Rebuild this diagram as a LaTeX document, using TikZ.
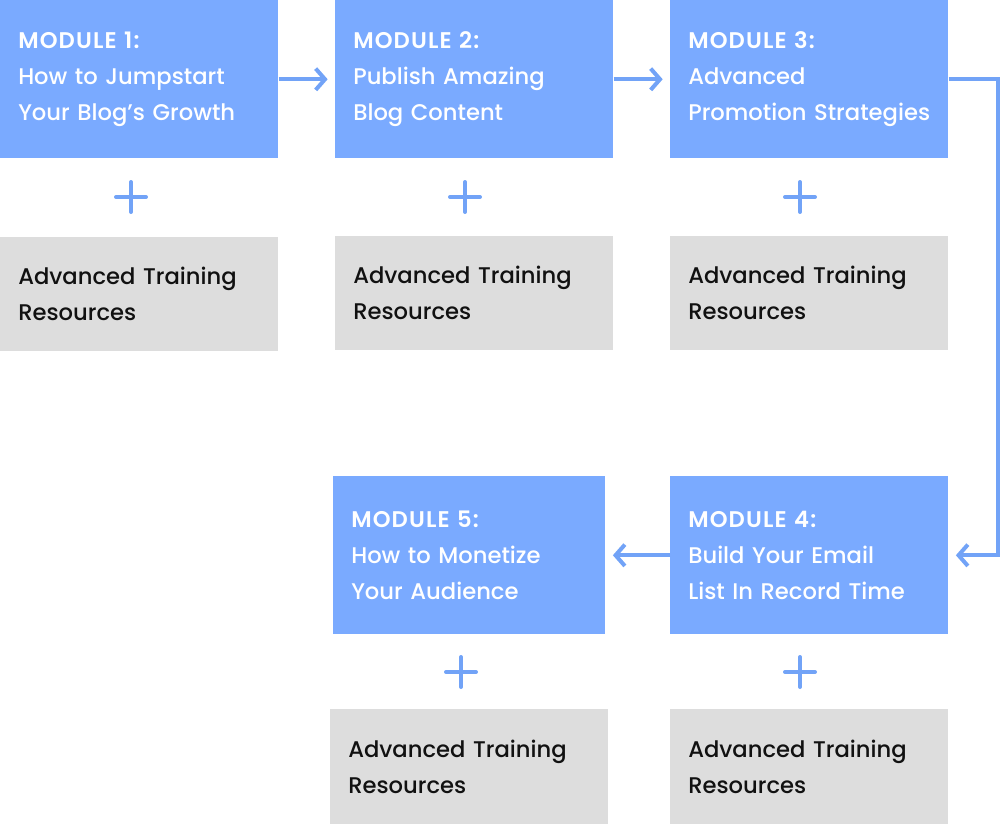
\documentclass[tikz,border=0pt]{standalone}
\usepackage{fontspec}
\setmainfont{Poppins}[UprightFont=* Medium, BoldFont=* SemiBold, BoldFeatures={LetterSpace=5}]
\usetikzlibrary{arrows.meta}
\definecolor{modblue}{HTML}{7AAAFF}
\definecolor{arrblue}{HTML}{72A3F7}
\definecolor{resgray}{HTML}{DDDDDD}
\definecolor{restext}{HTML}{111111}
\begin{document}
\begin{tikzpicture}[x=0.75pt,y=-0.75pt,
  box/.style={anchor=north west, inner xsep=13.5pt, inner ysep=0pt, align=left,
    font=\fontsize{17}{27}\selectfont},
  modbox/.style={box, fill=modblue, text=white, minimum height=118.5pt},
  resbox/.style={box, fill=resgray, text=restext, minimum height=85.5pt},
  wide/.style={text width=181.5pt},
  narrow/.style={text width=177pt},
  arr/.style={draw=arrblue, line width=3pt, -{Straight Barb[length=7pt,width=16pt,line width=3pt]}, shorten >=5.5pt},
  plus/.style={draw=arrblue, line width=3pt, line cap=round}
]
\useasboundingbox (0,0) rectangle (1000,824);
% modules
\node[modbox, wide] (m1) at (0,0) {\textbf{MODULE 1:}\\How to Jumpstart\\Your Blog’s Growth};
\node[modbox, wide] (m2) at (335,0) {\textbf{MODULE 2:}\\Publish Amazing\\Blog Content};
\node[modbox, wide] (m3) at (670,0) {\textbf{MODULE 3:}\\Advanced\\Promotion Strategies};
\node[modbox, wide] (m4) at (670,476) {\textbf{MODULE 4:}\\Build Your Email\\List In Record Time};
\node[modbox, narrow] (m5) at (333,476) {\textbf{MODULE 5:}\\How to Monetize\\Your Audience};
% resources
\node[resbox, wide] (r1) at (0,237) {Advanced Training\\Resources};
\node[resbox, wide] (r2) at (335,236) {Advanced Training\\Resources};
\node[resbox, wide] (r3) at (670,236) {Advanced Training\\Resources};
\node[resbox, wide, minimum height=86.25pt] (r4) at (670,709) {Advanced Training\\Resources};
\node[resbox, wide, minimum height=86.25pt] (r5) at (330,709) {Advanced Training\\Resources};
% plus signs
\coordinate (p1) at (131,197);
\coordinate (p2) at (465,197);
\coordinate (p3) at (800,197);
\coordinate (p4) at (800,672);
\coordinate (p5) at (461,672);
\foreach \p in {p1,p2,p3,p4,p5}{
  \draw[plus] ([xshift=-11.25pt]\p) -- ([xshift=11.25pt]\p);
  \draw[plus] ([yshift=-11.25pt]\p) -- ([yshift=11.25pt]\p);
}
% connectors
\draw[arr] (m1.east) -- (m2.west);
\draw[arr] (m2.east) -- (m3.west);
\draw[arr] (m3.east) -- ++(49,0) |- (m4.east);
\draw[arr] (m4.west) -- (m5.east);
\end{tikzpicture}
\end{document}
